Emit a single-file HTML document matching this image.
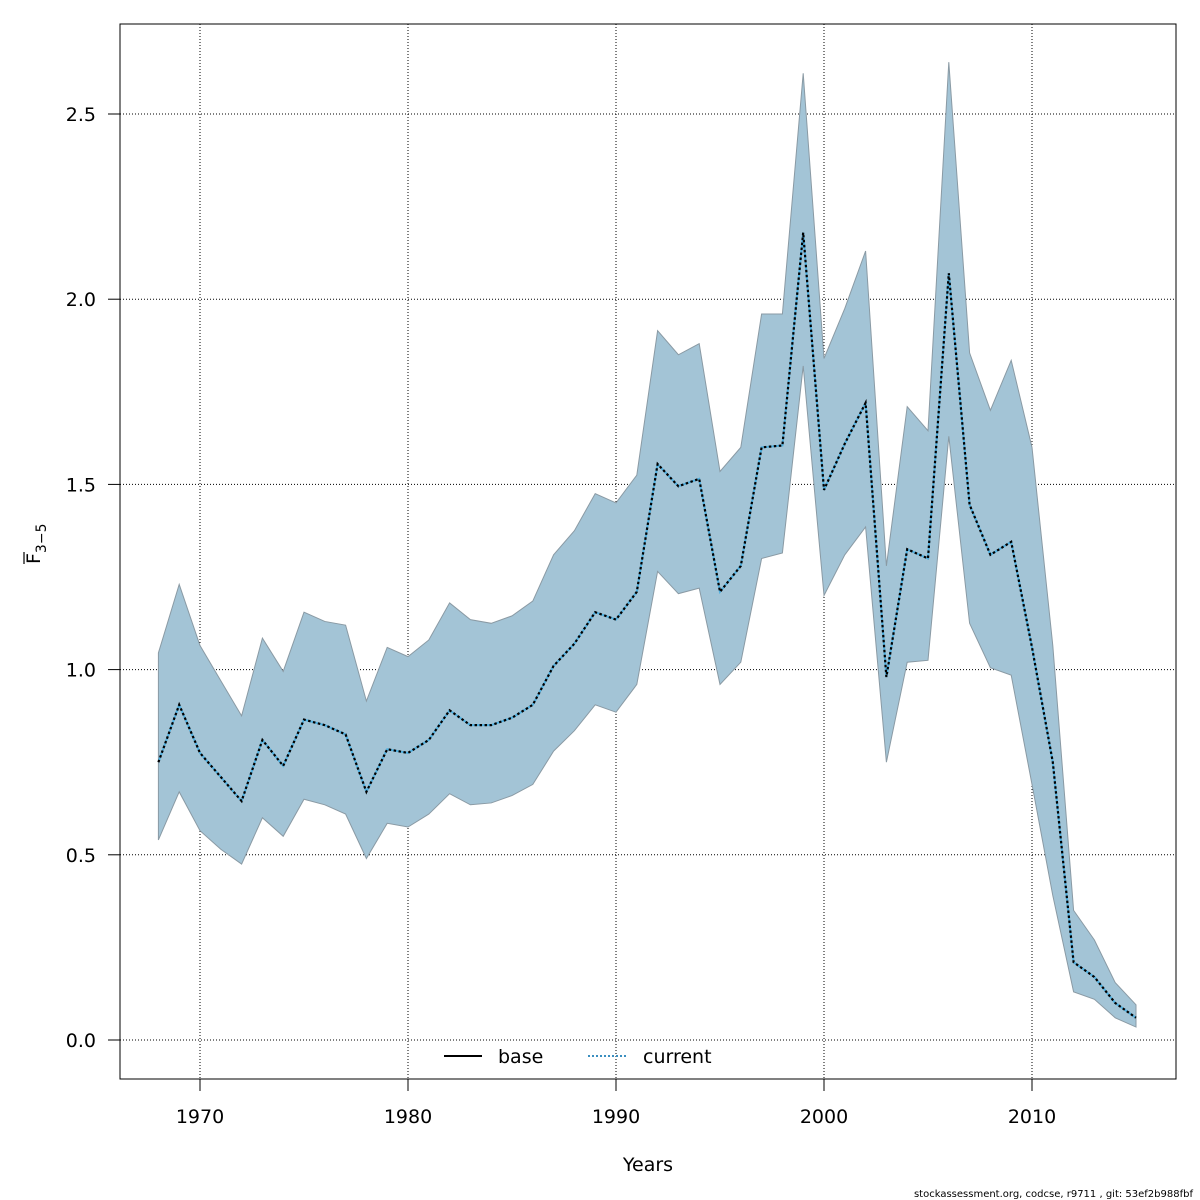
<!DOCTYPE html>
<html><head><meta charset="utf-8"><style>
html,body{margin:0;padding:0;background:#fff;}
svg{display:block;font-family:"DejaVu Sans","Liberation Sans",sans-serif;}
</style></head><body>
<svg id="chart" width="1200" height="1200" viewBox="0 0 1200 1200" xmlns="http://www.w3.org/2000/svg">
<rect width="1200" height="1200" fill="#fff"/>
<g id="grid"></g>
<g id="marks"></g>
<rect x="120" y="24" width="1056" height="1055" fill="none" stroke="#000" stroke-width="1"/>
<g id="axes"></g>
<text x="648" y="1171" font-size="19" text-anchor="middle">Years</text>
<g transform="translate(40,552) rotate(-90)">
<text x="-12" y="0" font-size="19">F<tspan font-size="14" dy="6">3−5</tspan></text>
<line x1="-12" y1="-16" x2="0" y2="-16" stroke="#000" stroke-width="1.2"/>
</g>
<g>
<line x1="444" y1="1056" x2="482" y2="1056" stroke="#000" stroke-width="2"/>
<text x="498" y="1063" font-size="19">base</text>
<line x1="588" y1="1056" x2="626" y2="1056" stroke="#3b8fc0" stroke-width="2" stroke-dasharray="2,2"/>
<text x="643" y="1063" font-size="19">current</text>
</g>
<text x="1193" y="1197" font-size="10" text-anchor="end">stockassessment.org, codcse, r9711 , git: 53ef2b988fbf</text>
</svg>
<script>
const years=[];for(let y=1968;y<=2015;y++)years.push(y);
const upper=[1.045,1.23,1.065,0.97,0.875,1.085,0.995,1.155,1.13,1.12,0.915,1.06,1.035,1.08,1.18,1.135,1.125,1.145,1.185,1.31,1.375,1.475,1.45,1.525,1.915,1.85,1.88,1.535,1.60,1.96,1.96,2.61,1.84,1.975,2.13,1.28,1.71,1.645,2.64,1.855,1.70,1.835,1.60,1.065,0.35,0.27,0.155,0.095];
const base=[0.75,0.905,0.775,0.71,0.645,0.81,0.74,0.865,0.85,0.825,0.67,0.785,0.775,0.81,0.89,0.85,0.85,0.87,0.905,1.01,1.07,1.155,1.135,1.21,1.555,1.495,1.515,1.21,1.28,1.6,1.605,2.18,1.485,1.61,1.72,0.98,1.325,1.3,2.07,1.445,1.31,1.345,1.06,0.75,0.21,0.17,0.1,0.06];
const current=[0.75,0.905,0.775,0.71,0.645,0.81,0.74,0.865,0.85,0.825,0.67,0.785,0.775,0.81,0.89,0.85,0.85,0.87,0.905,1.01,1.07,1.155,1.135,1.21,1.555,1.495,1.515,1.21,1.28,1.6,1.605,2.18,1.485,1.61,1.72,0.98,1.325,1.3,2.07,1.445,1.31,1.345,1.06,0.75,0.21,0.17,0.1,0.06];
const lower=[0.54,0.67,0.565,0.515,0.475,0.60,0.55,0.65,0.635,0.61,0.49,0.585,0.575,0.61,0.665,0.635,0.64,0.66,0.69,0.78,0.835,0.905,0.885,0.96,1.265,1.205,1.22,0.96,1.02,1.30,1.315,1.82,1.20,1.31,1.385,0.75,1.02,1.025,1.63,1.125,1.005,0.985,0.69,0.39,0.13,0.11,0.06,0.035];
const xTicks=[1970,1980,1990,2000,2010];
const yTicks=[0,0.5,1,1.5,2,2.5];
const yTickLabels=["0.0","0.5","1.0","1.5","2.0","2.5"];
const NS="http://www.w3.org/2000/svg";
const X=v=>200+(v-1970)*20.8;
const Y=v=>1040-v*370.4;
function mk(tag,attrs,parent){const e=document.createElementNS(NS,tag);for(const k in attrs)e.setAttribute(k,attrs[k]);parent.appendChild(e);return e;}
const grid=document.getElementById('grid'),marks=document.getElementById('marks'),axes=document.getElementById('axes');
xTicks.forEach(t=>{const l=mk('line',{x1:X(t),x2:X(t),y1:24,y2:1079,stroke:'#000','stroke-width':1,'stroke-dasharray':'1,2'},grid);


const tk=mk('line',{x1:X(t),x2:X(t),y1:1079,y2:1091,stroke:'#000'},axes);


const tx=mk('text',{x:X(t),y:1123,'font-size':19,'text-anchor':'middle'},axes);tx.textContent=t;

});
yTicks.forEach((t,i)=>{const l=mk('line',{x1:120,x2:1176,y1:Y(t),y2:Y(t),stroke:'#000','stroke-width':1,'stroke-dasharray':'1,2'},grid);


const tk=mk('line',{x1:108,x2:120,y1:Y(t),y2:Y(t),stroke:'#000'},axes);


const tx=mk('text',{x:96,y:Y(t)+7,'font-size':19,'text-anchor':'end'},axes);tx.textContent=yTickLabels[i];

});
let d='';years.forEach((y,i)=>{d+=(i?'L':'M')+X(y)+','+Y(upper[i]);});
for(let i=years.length-1;i>=0;i--)d+='L'+X(years[i])+','+Y(lower[i]);d+='Z';
const band=mk('path',{d:d,fill:'#a3c4d6',stroke:'#8a9aa4','stroke-width':1},marks);


const pts=a=>years.map((y,i)=>X(y)+','+Y(a[i])).join(' ');
const cl=mk('polyline',{points:pts(current),fill:'none',stroke:'#4fb0e0','stroke-width':2},marks);


const bl=mk('polyline',{points:pts(base),fill:'none',stroke:'#000','stroke-width':2.2,'stroke-dasharray':'2.5,2.5'},marks);


</script>
</body></html>
